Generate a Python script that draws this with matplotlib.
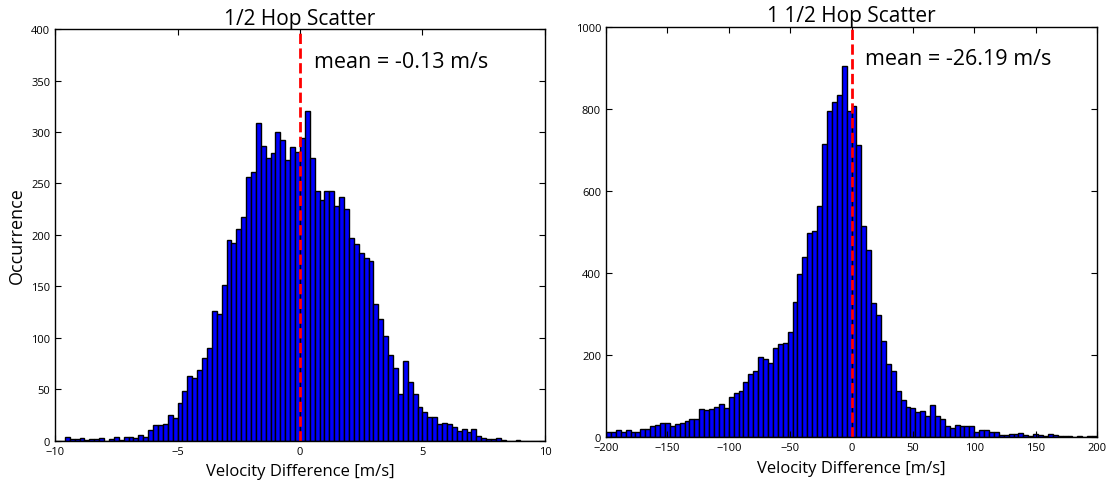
import matplotlib
matplotlib.use("Agg")
import matplotlib.pyplot as plt
import numpy as np

plt.rcParams['font.family'] = ['Open Sans', 'DejaVu Sans']

# histogram counts, 100 bins each
half_edges = np.linspace(-10, 10, 101)
half_counts = [
    0, 0, 4, 2, 2, 3, 1, 2, 2, 3, 0, 2, 4, 1, 4, 4, 3, 6, 4, 10,
    15, 15, 16, 25, 22, 37, 48, 63, 61, 69, 80, 90, 126, 123, 151, 195, 192, 206, 217, 256,
    261, 309, 286, 275, 280, 300, 292, 273, 285, 281, 294, 320, 275, 243, 234, 243, 243, 228, 237, 225,
    197, 191, 182, 178, 175, 133, 118, 102, 83, 71, 45, 77, 57, 45, 33, 28, 23, 23, 16, 17,
    16, 13, 9, 11, 8, 11, 5, 3, 2, 2, 3, 1, 0, 0, 1, 0, 0, 0, 0, 0,
]
half_mean = -0.13

hop_edges = np.linspace(-200, 200, 101)
hop_counts = [
    11, 11, 18, 11, 18, 11, 11, 20, 20, 27, 29, 35, 33, 26, 32, 35, 39, 44, 44, 69,
    65, 69, 73, 80, 71, 97, 108, 113, 134, 153, 161, 194, 190, 181, 218, 227, 230, 257, 329, 398,
    440, 497, 503, 563, 715, 796, 818, 833, 904, 796, 808, 713, 514, 455, 328, 298, 233, 177, 161, 113,
    91, 73, 71, 60, 63, 51, 77, 52, 43, 26, 23, 29, 26, 26, 28, 13, 17, 17, 13, 12,
    6, 5, 7, 7, 10, 5, 3, 7, 4, 2, 7, 4, 2, 2, 2, 0, 2, 0, 2, 2,
]
hop_mean = -26.19

panels = [
    ("1/2 Hop Scatter", half_edges, half_counts, half_mean, (-10, 10), (0, 400), 50, 5,
     [0.0497, 0.0893, 0.4426, 0.8487]),
    ("1 1/2 Hop Scatter", hop_edges, hop_counts, hop_mean, (-200, 200), (0, 1000), 200, 50,
     [0.5474, 0.0969, 0.4436, 0.8454]),
]

fig = plt.figure(figsize=(11.07, 4.85), dpi=100)

for i, (title, edges, counts, mean, xlim, ylim, ystep, xstep, rect) in enumerate(panels):
    ax = fig.add_axes(rect)
    centers = (edges[:-1] + edges[1:]) / 2
    ax.hist(centers, bins=edges, weights=counts, color='#0000ff', edgecolor='black', linewidth=1.0)
    ax.axvline(0, color='red', linestyle='--', linewidth=2)
    ax.text(0.528, 0.922, f"mean = {mean:.2f} m/s", transform=ax.transAxes,
            fontsize=15.5, va='center', ha='left')
    ax.set_xlim(*xlim)
    ax.set_ylim(*ylim)
    ax.set_xticks(np.arange(xlim[0], xlim[1] + 1, xstep))
    ax.set_yticks(np.arange(ylim[0], ylim[1] + 1, ystep))
    ax.tick_params(direction='in', top=True, right=True, labelsize=8, length=4)
    ax.set_title(title, fontsize=15, pad=4)
    ax.set_xlabel("Velocity Difference [m/s]", fontsize=12, labelpad=5)
    if i == 0:
        ax.set_ylabel("Occurrence", fontsize=13)
    for s in ax.spines.values():
        s.set_linewidth(1.0)

fig.savefig("out.png", dpi=100)
